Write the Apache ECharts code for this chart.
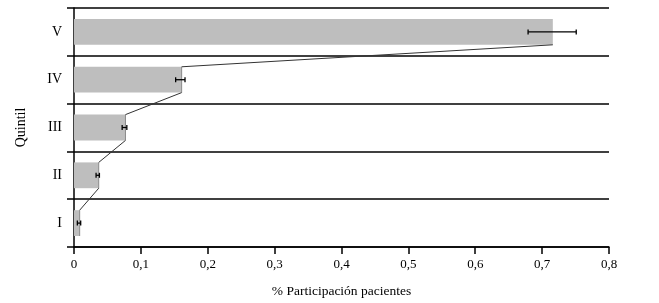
<!DOCTYPE html>
<html>
<head>
<meta charset="utf-8">
<script src="https://cdn.jsdelivr.net/npm/echarts@6/dist/echarts.min.js"></script>
<style>
  html, body { margin: 0; padding: 0; background: #fff; }
  #chart { width: 659px; height: 303px; }
</style>
</head>
<body>
<div id="chart"></div>
<script>
const quintiles = ['I', 'II', 'III', 'IV', 'V'];
const participation = [0.0085, 0.037, 0.077, 0.161, 0.716];
const errLow = [0.005, 0.033, 0.072, 0.152, 0.679];
const errHigh = [0.010, 0.038, 0.079, 0.166, 0.751];
const xTicks = [0, 0.1, 0.2, 0.3, 0.4, 0.5, 0.6, 0.7, 0.8];

const chart = echarts.init(document.getElementById('chart'));
const serif = '"Liberation Serif", "DejaVu Serif", serif';
const barFrac = 0.54;

// segments joining top of one bar end to bottom of the next bar end
const linkData = participation.slice(0, -1).map((v, i) => [v, i, participation[i + 1], i + 1]);
const errData = quintiles.map((q, i) => [i, errLow[i], errHigh[i]]);

chart.setOption({
  animation: false,
  grid: { left: 74, right: 50, top: 8, bottom: 54 },
  xAxis: {
    type: 'value',
    min: 0,
    max: 0.8,
    interval: 0.1,
    name: '% Participación pacientes',
    nameLocation: 'middle',
    nameGap: 37,
    nameTextStyle: { fontFamily: serif, fontSize: 13.5, color: '#000' },
    axisLine: { show: true, lineStyle: { color: '#000', width: 1.5 } },
    axisTick: { show: true, length: 7, lineStyle: { color: '#000', width: 1.5 } },
    axisLabel: {
      fontFamily: serif, fontSize: 13, color: '#000', margin: 11,
      formatter: v => xTicks.includes(Math.round(v * 10) / 10) ? String(Math.round(v * 10) / 10).replace('.', ',') : ''
    },
    splitLine: { show: false }
  },
  yAxis: {
    type: 'category',
    data: quintiles,
    boundaryGap: true,
    name: 'Quintil',
    nameLocation: 'middle',
    nameGap: 46,
    nameRotate: 90,
    nameTextStyle: { fontFamily: serif, fontSize: 14, color: '#000' },
    axisLine: { show: true, lineStyle: { color: '#000', width: 1.5 } },
    axisTick: { show: true, length: 7, lineStyle: { color: '#000', width: 1.5 } },
    axisLabel: { fontFamily: serif, fontSize: 14, color: '#000', margin: 12 },
    splitLine: { show: true, lineStyle: { color: '#000', width: 1.5 } }
  },
  series: [
    {
      type: 'bar',
      data: participation,
      barWidth: (barFrac * 100) + '%',
      itemStyle: { color: '#bebebe' },
      z: 2
    },
    {
      type: 'custom',
      data: linkData,
      z: 3,
      renderItem: (params, api) => {
        const half = api.size([0, 1])[1] * barFrac / 2;
        const a = api.coord([api.value(0), api.value(1)]);
        const b = api.coord([api.value(2), api.value(3)]);
        return {
          type: 'group',
          children: [
            { type: 'line', shape: { x1: a[0], y1: a[1] - half, x2: b[0], y2: b[1] + half },
              style: { stroke: '#333', lineWidth: 1 } },
            { type: 'line', shape: { x1: a[0], y1: a[1] + half, x2: a[0], y2: a[1] - half },
              style: { stroke: '#555', lineWidth: 0.6 } }
          ]
        };
      }
    },
    {
      type: 'custom',
      data: errData,
      z: 4,
      renderItem: (params, api) => {
        const lo = api.coord([api.value(1), api.value(0)]);
        const hi = api.coord([api.value(2), api.value(0)]);
        const cap = 2.5;
        const st = { stroke: '#000', lineWidth: 1.3 };
        return {
          type: 'group',
          children: [
            { type: 'line', shape: { x1: lo[0], y1: lo[1], x2: hi[0], y2: hi[1] }, style: st },
            { type: 'line', shape: { x1: lo[0], y1: lo[1] - cap, x2: lo[0], y2: lo[1] + cap }, style: st },
            { type: 'line', shape: { x1: hi[0], y1: hi[1] - cap, x2: hi[0], y2: hi[1] + cap }, style: st }
          ]
        };
      }
    }
  ]
});
</script>
</body>
</html>
